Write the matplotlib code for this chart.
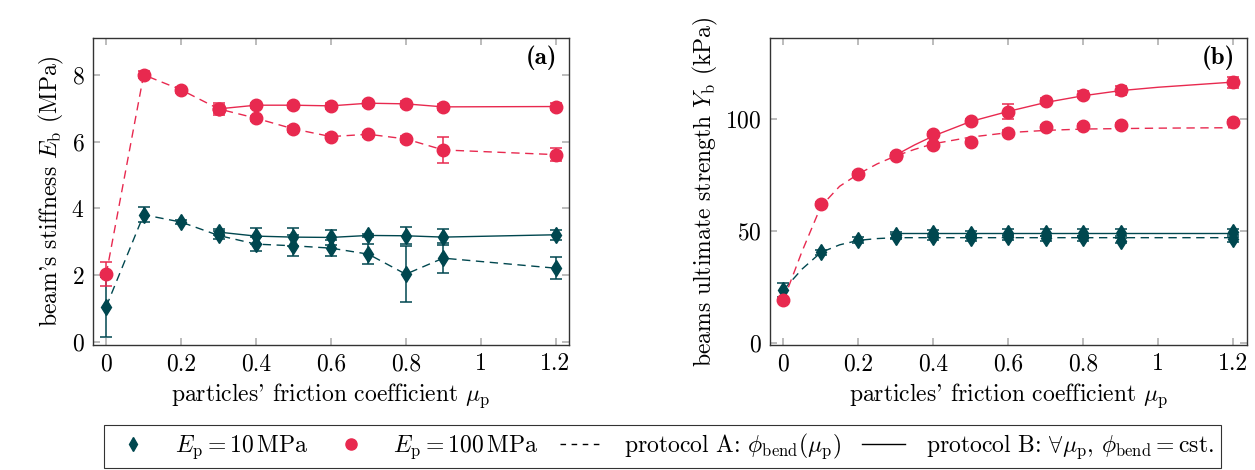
import matplotlib
matplotlib.use("Agg")
import matplotlib.pyplot as plt
from matplotlib.lines import Line2D
from matplotlib.ticker import FuncFormatter

plt.rcParams["font.family"] = "serif"
plt.rcParams["font.serif"] = ["cmr10"]
plt.rcParams["mathtext.fontset"] = "cm"
plt.rcParams["axes.formatter.use_mathtext"] = True

red = "#e8294f"
teal = "#00474f"

mu_all = [0, 0.1, 0.2, 0.3, 0.4, 0.5, 0.6, 0.7, 0.8, 0.9, 1.2]
mu_b = [0.3, 0.4, 0.5, 0.6, 0.7, 0.8, 0.9, 1.2]

# (a) stiffness, MPa
E100_A = [2.03, 8.0, 7.55, 6.98, 6.70, 6.38, 6.15, 6.22, 6.08, 5.75, 5.61]
E100_A_err = [0.35, 0.1, 0.08, 0.12, 0.08, 0.08, 0.08, 0.08, 0.08, 0.4, 0.2]
E100_B = [6.98, 7.09, 7.09, 7.07, 7.15, 7.13, 7.04, 7.05]
E100_B_err = [0.17, 0.08, 0.08, 0.08, 0.08, 0.08, 0.1, 0.1]
E10_A = [1.06, 3.81, 3.59, 3.19, 2.93, 2.88, 2.81, 2.63, 2.03, 2.51, 2.21]
E10_A_err = [0.9, 0.22, 0.05, 0.12, 0.2, 0.32, 0.25, 0.3, 0.83, 0.45, 0.32]
E10_B = [3.29, 3.17, 3.14, 3.13, 3.19, 3.18, 3.14, 3.21]
E10_B_err = [0.1, 0.24, 0.27, 0.22, 0.05, 0.25, 0.24, 0.15]

# (b) ultimate strength, kPa
Y100_A = [19.1, 62.1, 75.5, 83.6, 88.5, 89.9, 94.0, 96.4, 96.9, 97.3, 98.7]
Y100_A_err = [1, 1, 1, 1, 1, 1, 1, 1, 1, 1, 1]
Y100_B = [84.0, 93.4, 99.1, 103.4, 108.2, 110.9, 113.0, 116.6]
Y100_B_err = [1, 1, 1, 3.5, 1.2, 1.5, 2, 2.5]
Y10_A = [23.6, 40.4, 46.0, 47.5, 47.2, 46.7, 47.2, 46.7, 46.7, 45.7, 46.3]
Y10_A_err = [3, 1.2, 1.5, 1.2, 1.2, 1.2, 1.2, 1.2, 1.2, 1.2, 1.2]
Y10_B = [48.2, 49.0, 48.7, 49.3, 49.3, 49.3, 49.3, 49.6]
Y10_B_err = [1.5, 1.5, 1.5, 1.5, 1.5, 1.5, 1.5, 1.5]

# fitted curves drawn in (b)
fit_mu = [0, 0.05, 0.1, 0.15, 0.2, 0.25, 0.3, 0.35, 0.4, 0.5, 0.6, 0.7, 0.8, 0.9, 1.0, 1.2]
fit100_A = [19, 41, 61, 70, 75.5, 80, 83.6, 86.5, 89, 92, 94, 95, 95.6, 95.8, 96, 96.2]
fit10_A = [23.6, 33, 40.4, 43.8, 45.8, 46.6, 47, 47, 47, 47, 47, 47, 47, 47, 47, 47]
fitb_mu = [0.3, 0.35, 0.4, 0.5, 0.6, 0.7, 0.8, 0.9, 1.0, 1.2]
fit100_B = [84, 88.5, 92.5, 99, 103.5, 107.5, 110.5, 112.8, 114.3, 116.6]
fit10_B = [49, 49, 49, 49, 49, 49, 49, 49, 49, 49]

fig = plt.figure(figsize=(12.55, 4.70), dpi=100)
ax1 = fig.add_axes([0.0739, 0.266, 0.3795, 0.653])
ax2 = fig.add_axes([0.6135, 0.266, 0.3798, 0.653])

dash = (6, 4)
fs = 17


def points(ax, x, y, err, color, marker, ms):
    ax.errorbar(x, y, yerr=err, fmt=marker, color=color, ms=ms, mec=color,
                ecolor=color, elinewidth=1.1, capsize=4, capthick=1.1,
                alpha=1, zorder=3)


# left panel
ax1.plot(mu_all, E10_A, color=teal, lw=1, dashes=dash, zorder=2)
ax1.plot(mu_b, E10_B, color=teal, lw=1, zorder=2)
ax1.plot(mu_all, E100_A, color=red, lw=1, dashes=dash, zorder=2)
ax1.plot(mu_b, E100_B, color=red, lw=1, zorder=2)
points(ax1, mu_all, E10_A, E10_A_err, teal, "d", 8)
points(ax1, mu_b, E10_B, E10_B_err, teal, "d", 8)
points(ax1, mu_all, E100_A, E100_A_err, red, "o", 9)
points(ax1, mu_b, E100_B, E100_B_err, red, "o", 9)
ax1.set_ylim(-0.09, 9.1)
ax1.set_yticks([0, 2, 4, 6, 8])
ax1.set_ylabel(r"beam's stiffness $E_\mathrm{b}$ (MPa)", fontsize=fs)
ax1.text(0.975, 0.975, "(a)", transform=ax1.transAxes, ha="right", va="top",
         fontsize=18, family="cmb10")

# right panel
ax2.plot(fit_mu, fit10_A, color=teal, lw=1, dashes=dash, zorder=2)
ax2.plot(fitb_mu, fit10_B, color=teal, lw=1, zorder=2)
ax2.plot(fit_mu, fit100_A, color=red, lw=1, dashes=dash, zorder=2)
ax2.plot(fitb_mu, fit100_B, color=red, lw=1, zorder=2)
points(ax2, mu_all, Y10_A, Y10_A_err, teal, "d", 8)
points(ax2, mu_b, Y10_B, Y10_B_err, teal, "d", 8)
points(ax2, mu_all, Y100_A, Y100_A_err, red, "o", 9)
points(ax2, mu_b, Y100_B, Y100_B_err, red, "o", 9)
ax2.set_ylim(-1.0, 136.3)
ax2.set_yticks([0, 50, 100])
ax2.set_ylabel(r"beams ultimate strength $Y_\mathrm{b}$ (kPa)", fontsize=fs)
ax2.text(0.975, 0.975, "(b)", transform=ax2.transAxes, ha="right", va="top",
         fontsize=18, family="cmb10")

for ax in (ax1, ax2):
    ax.set_xlim(-0.036, 1.236)
    ax.set_xticks([0, 0.2, 0.4, 0.6, 0.8, 1, 1.2])
    ax.xaxis.set_major_formatter(FuncFormatter(lambda v, p: "%g" % round(v, 2)))
    ax.set_xlabel(r"particles' friction coefficient $\mu_\mathrm{p}$", fontsize=fs)
    ax.tick_params(direction="in", top=True, right=True, length=5, width=1.2,
                   color="#b0b0b0", labelsize=fs, pad=6)
    for s in ax.spines.values():
        s.set_color("#333333")
        s.set_linewidth(1.0)

handles = [
    Line2D([], [], ls="none", marker="d", color=teal, ms=7),
    Line2D([], [], ls="none", marker="o", color=red, ms=8),
    Line2D([], [], color="black", lw=1, dashes=(4, 4)),
    Line2D([], [], color="black", lw=1),
]
labels = [
    r"$E_\mathrm{p} = 10\,\mathrm{MPa}$",
    r"$E_\mathrm{p} = 100\,\mathrm{MPa}$",
    r"protocol A: $\phi_\mathrm{bend}(\mu_\mathrm{p})$",
    r"protocol B: $\forall\mu_\mathrm{p}$, $\phi_\mathrm{bend} = \mathrm{cst.}$",
]
leg = fig.legend(handles, labels, loc="center", bbox_to_anchor=(0.528, 0.05),
                 ncol=4, fontsize=fs, frameon=True, fancybox=False,
                 edgecolor="black", columnspacing=0.9, handlelength=1.8,
                 handletextpad=0.9, borderpad=0.3)
leg.get_frame().set_linewidth(0.8)

fig.savefig("out.png", dpi=100)
